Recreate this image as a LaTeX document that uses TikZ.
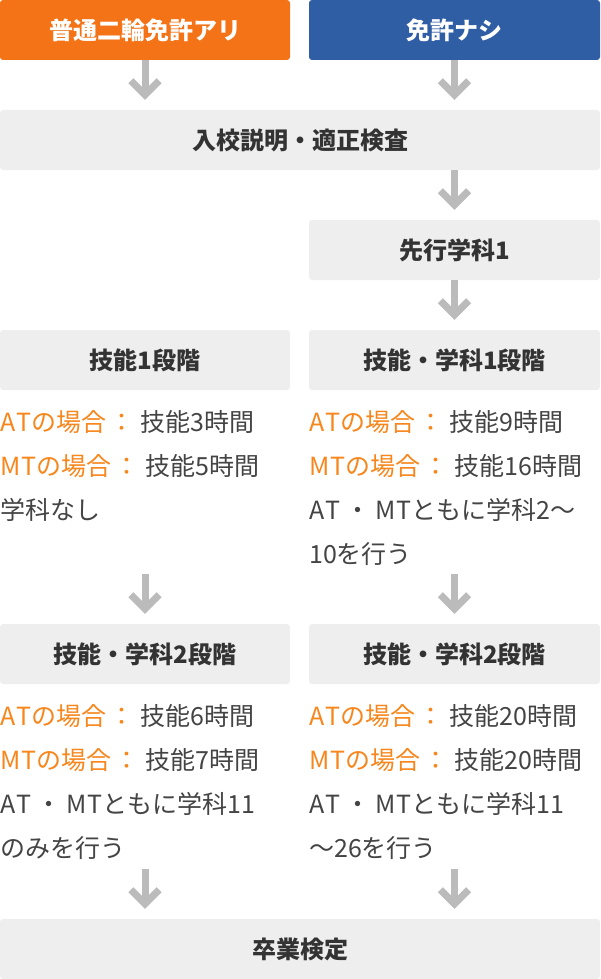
\documentclass[tikz,border=0pt]{standalone}
\usepackage{fontspec}
\setmainfont{Noto Sans CJK JP}
\usetikzlibrary{arrows.meta}
\definecolor{licorange}{HTML}{F37316}
\definecolor{noblue}{HTML}{2F5EA5}
\definecolor{boxgray}{HTML}{EEEEEE}
\definecolor{arrowgray}{HTML}{BBBBBB}
\definecolor{headtext}{HTML}{333333}
\definecolor{bodytext}{HTML}{444444}
\definecolor{caseorange}{HTML}{F7861C}
\newcommand{\caseAT}{\textcolor{caseorange}{A\kern1ptTの場合\kern3pt：}\hspace{6pt}}
\newcommand{\caseMT}{\textcolor{caseorange}{M\kern1ptTの場合\kern3pt：}\hspace{6pt}}
\newcommand{\bothATMT}{A\kern1ptT\kern5pt・\kern5ptM\kern1ptT}
\begin{document}
\begin{tikzpicture}[x=1pt, y=-1pt,
    stagebox/.style={fill=boxgray, rounded corners=3pt, minimum height=60pt, inner sep=0pt,
        text=headtext, font=\fontsize{24}{26}\selectfont\bfseries},
    topbox/.style={stagebox, text=white},
    casetext/.style={anchor=north west, align=left, inner sep=0pt, text=bodytext,
        font=\fontsize{25}{44}\selectfont},
    flowarrow/.style={draw=arrowgray, line width=7pt, shorten >=10pt,
        -{Straight Barb[angle=90:20pt]}}]
    \useasboundingbox (0,0) rectangle (600,979);
    % start
    \node[topbox, fill=licorange, minimum width=290pt] (licensed) at (145,30) {普通二輪免許アリ};
    \node[topbox, fill=noblue, minimum width=291pt] (nolicense) at (454.5,30) {免許ナシ};
    \node[stagebox, minimum width=600pt] (intro) at (300,140) {入校説明・適正検査};
    \node[stagebox, minimum width=291pt] (pre) at (454.5,250) {先行学科1};
    % first stage
    \node[stagebox, minimum width=290pt] (lvlOneL) at (145,360) {技能1段階};
    \node[stagebox, minimum width=291pt] (lvlOneR) at (454.5,360) {技能・学科1段階};
    \node[casetext] (lvlOneTextL) at (0,410) {\caseAT 技能3時間\\ \caseMT 技能5時間\\ 学科なし};
    \node[casetext] (lvlOneTextR) at (309,410) {\caseAT 技能9時間\\ \caseMT 技能16時間\\ \bothATMT ともに学科2～\\ 10を行う};
    % second stage
    \node[stagebox, minimum width=290pt] (lvlTwoL) at (145,654) {技能・学科2段階};
    \node[stagebox, minimum width=291pt] (lvlTwoR) at (454.5,654) {技能・学科2段階};
    \node[casetext] (lvlTwoTextL) at (0,704) {\caseAT 技能6時間\\ \caseMT 技能7時間\\ \bothATMT ともに学科11\\ のみを行う};
    \node[casetext] (lvlTwoTextR) at (309,704) {\caseAT 技能20時間\\ \caseMT 技能20時間\\ \bothATMT ともに学科11\\ ～26を行う};
    \node[stagebox, minimum width=600pt] (exam) at (300,949) {卒業検定};
    % arrows
    \draw[flowarrow] (licensed.south) -- (licensed.south |- intro.north);
    \draw[flowarrow] (nolicense.south) -- (nolicense.south |- intro.north);
    \draw[flowarrow] (intro.south -| pre.north) -- (pre.north);
    \draw[flowarrow] (pre.south) -- (lvlOneR.north);
    \draw[flowarrow] ([yshift=50pt]lvlTwoL.north) -- (lvlTwoL.north);
    \draw[flowarrow] ([yshift=50pt]lvlTwoR.north) -- (lvlTwoR.north);
    \draw[flowarrow] ([yshift=50pt]lvlTwoL.north |- exam.north) -- (lvlTwoL.north |- exam.north);
    \draw[flowarrow] ([yshift=50pt]lvlTwoR.north |- exam.north) -- (lvlTwoR.north |- exam.north);
\end{tikzpicture}
\end{document}
